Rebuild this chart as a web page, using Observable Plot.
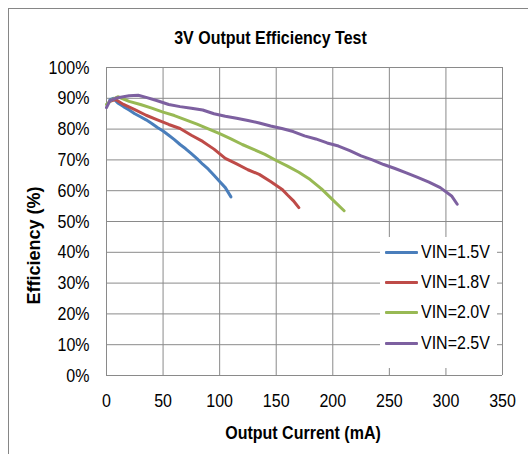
<!DOCTYPE html>
<html>
<head>
<meta charset="utf-8">
<script src="https://cdn.jsdelivr.net/npm/d3@7"></script>
<script src="https://cdn.jsdelivr.net/npm/@observablehq/plot@0.6"></script>
<style>
  html, body { margin: 0; padding: 0; background: #fff; overflow: hidden; }
  #wrap { position: relative; width: 528px; height: 454px; overflow: hidden; font-family: "Liberation Sans", Arial, sans-serif; }
  #frame { position: absolute; left: 8px; top: 8px; width: 700px; height: 700px; border: 1px solid #868686; box-sizing: border-box; }
  #chart { position: absolute; left: 0; top: 0; }
  #legend { position: absolute; left: 380px; top: 237px; width: 117px; height: 131px; background: #fff; }
  .row { position: absolute; left: 0; height: 22px; display: flex; align-items: center; }
  .sw { width: 33px; height: 3px; margin-left: 5px; margin-right: 3px; border-radius: 1px; flex: none; }
  .lb { display: inline-block; font-size: 19px; color: #000; line-height: 22px; transform: scaleX(0.842); transform-origin: left center; white-space: nowrap; }
</style>
</head>
<body>
<div id="wrap">
  <div id="frame"></div>
  <div id="chart"></div>
  <div id="legend"></div>
</div>
<script>
const seriesNames = ["VIN=1.5V", "VIN=1.8V", "VIN=2.0V", "VIN=2.5V"];
const seriesColors = ["#4A7EBB", "#BE4B48", "#98B954", "#7D60A0"];

const vin15Current = [3, 6, 10, 15, 20, 25, 30, 35, 40, 45, 50, 55, 60, 65, 70, 75, 80, 85, 90, 95, 100, 105, 110];
const vin15Eff     = [89.5, 90, 88.5, 87.3, 86.2, 85, 84, 83, 81.8, 80.5, 79.4, 78, 76.6, 75, 73.6, 72, 70.4, 68.6, 67, 65, 63, 61, 58];

const vin18Current = [3, 8, 15, 25, 35, 45, 55, 65, 75, 85, 95, 105, 115, 125, 135, 145, 155, 160, 165, 170];
const vin18Eff     = [89, 89.6, 88, 86.3, 84.5, 83, 81.5, 80.2, 78, 76, 73.5, 70.5, 68.7, 66.8, 65.3, 63, 60.5, 58.6, 56.8, 54.5];

const vin20Current = [0, 5, 10, 20, 30, 40, 50, 60, 70, 80, 90, 100, 110, 120, 130, 140, 150, 160, 170, 180, 190, 200, 210];
const vin20Eff     = [88, 89.6, 90.5, 89, 88, 86.8, 85.5, 84.4, 83, 81.6, 80.1, 78.5, 76.8, 75, 73.4, 71.8, 69.8, 68, 66, 63.6, 60.6, 57, 53.5];

const vin25Current = [0, 3, 8, 15, 20, 28, 35, 45, 55, 65, 75, 85, 95, 105, 115, 125, 135, 145, 155, 165, 175, 185, 195, 205, 215, 225, 235, 245, 255, 265, 275, 285, 295, 305, 310];
const vin25Eff     = [87, 89.2, 90, 90.5, 90.8, 91, 90.3, 89.2, 88, 87.3, 86.8, 86.2, 85, 84.2, 83.5, 82.8, 82, 81, 80.2, 79.2, 77.8, 76.8, 75.5, 74.5, 73, 71.3, 70, 68.5, 67.2, 65.8, 64.3, 62.8, 61, 58.3, 55.6];

const xTicks = [0, 50, 100, 150, 200, 250, 300, 350];
const yTicks = [0, 10, 20, 30, 40, 50, 60, 70, 80, 90, 100];

const chartTitle = "3V Output Efficiency Test";
const xTitle = "Output Current (mA)";
const yTitle = "Efficiency (%)";

const currents = [vin15Current, vin18Current, vin20Current, vin25Current];
const effs = [vin15Eff, vin18Eff, vin20Eff, vin25Eff];
const rows = [];
seriesNames.forEach((name, i) => {
  currents[i].forEach((c, j) => rows.push({series: name, current: c, eff: effs[i][j]}));
});

const plot = Plot.plot({
  width: 528,
  height: 454,
  marginLeft: 106,
  marginRight: 26,
  marginTop: 67,
  marginBottom: 79,
  style: {fontFamily: '"Liberation Sans", Arial, sans-serif', fontSize: "19px", color: "#000", background: "transparent", overflow: "visible"},
  x: {domain: [0, 350], ticks: xTicks.length - 1, tickSize: 0, tickPadding: 18, label: null},
  y: {domain: [0, 100], ticks: yTicks.length - 1, tickSize: 0, tickPadding: 17, label: null, tickFormat: d => d + "%"},
  color: {domain: seriesNames, range: seriesColors},
  marks: [
    Plot.ruleX(xTicks, {stroke: "#8a8a8a", strokeWidth: 1}),
    Plot.ruleY(yTicks, {stroke: "#8a8a8a", strokeWidth: 1}),
    Plot.line(rows, {x: "current", y: "eff", z: "series", stroke: "series", strokeWidth: 3, strokeLinejoin: "round", strokeLinecap: "round", curve: "linear"}),
    Plot.text([chartTitle], {text: d => d, frameAnchor: "top", lineAnchor: "middle", textAnchor: "middle", dx: -34, dy: -29, fontWeight: "bold", fontSize: 18, fill: "#000"}),
    Plot.text([xTitle], {text: d => d, frameAnchor: "bottom", lineAnchor: "middle", textAnchor: "middle", dx: -1.5, dy: 58, fontWeight: "bold", fontSize: 18, fill: "#000"}),
    Plot.text([yTitle], {text: d => d, frameAnchor: "left", lineAnchor: "middle", textAnchor: "middle", dx: -72, dy: 24, rotate: -90, fontWeight: "bold", fontSize: 18, fill: "#000"})
  ]
});
document.getElementById("chart").appendChild(plot);

// condense horizontal text to the width of a 16px face (reference looks narrow)
plot.querySelectorAll("text").forEach(t => {
  const tr = t.getAttribute("transform") || "";
  if (tr.includes("rotate")) return;
  const L = t.getComputedTextLength();
  const fs = parseFloat(getComputedStyle(t).fontSize) || 16;
  if (L > 0) {
    t.setAttribute("textLength", (L * 16 / fs).toFixed(2));
    t.setAttribute("lengthAdjust", "spacingAndGlyphs");
  }
});

const legend = document.getElementById("legend");
const rowTops = [4, 34, 64, 95];
seriesNames.forEach((name, i) => {
  const r = document.createElement("div");
  r.className = "row";
  r.style.top = rowTops[i] + "px";
  const sw = document.createElement("div");
  sw.className = "sw";
  sw.style.background = seriesColors[i];
  const lb = document.createElement("span");
  lb.className = "lb";
  lb.textContent = name;
  r.appendChild(sw);
  r.appendChild(lb);
  legend.appendChild(r);
});
</script>
</body>
</html>
